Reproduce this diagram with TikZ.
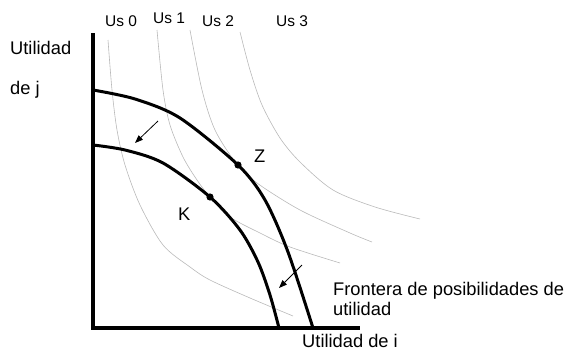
\documentclass[tikz,border=0pt]{standalone}
\usepackage{fontspec}
\setmainfont{Liberation Sans}
\usetikzlibrary{arrows.meta,positioning}

\begin{document}
\begin{tikzpicture}[
  x=1pt, y=-1pt,
  font=\fontsize{18.3}{20}\selectfont,
  axis/.style={line width=3.3pt},
  frontier/.style={line width=3pt, line join=round},
  indiff/.style={gray!55, line width=0.6pt},
  despl/.style={-{Triangle[length=8pt,width=6pt]}, line width=0.8pt},
  lbl/.style={inner sep=0pt, anchor=base west},
  uslbl/.style={lbl, font=\fontsize{15.5}{18}\selectfont}
]
\useasboundingbox (0,0) rectangle (571,351);

% curvas de indiferencia
\draw[indiff] plot[smooth] coordinates {(108,40) (112,90) (117,130) (125,165) (140,205) (163,245) (190,267) (210,280) (250,298) (293,316)};
\draw[indiff] plot[smooth] coordinates {(157,30) (163,90) (170,125) (183,157) (197,180) (210,197) (230,217) (260,233) (290,247) (340,263)};
\draw[indiff] plot[smooth] coordinates {(190,30) (202,90) (215,130) (236,163) (257,183) (300,210) (350,233) (372,242)};
\draw[indiff] plot[smooth] coordinates {(240,32) (250,70) (262,105) (280,138) (300,162) (333,190) (375,207) (420,219)};

% ejes
\draw[axis] (93,33) -- (93,328) -- (360,328);

% fronteras
\draw[frontier] plot[smooth] coordinates {(93,90) (135,99) (180,118) (238,165) (265,200) (288,252) (313,328)};
\draw[frontier] plot[smooth] coordinates {(93,145) (125,150) (163,163) (210,197) (240,230) (258,262) (270,295) (279,328)};

% puntos
\coordinate (Z) at (238,165);
\coordinate (K) at (210,197);
\fill (Z) circle (3.6pt);
\fill (K) circle (3.6pt);

% desplazamiento
\coordinate (d1a) at (158,121);
\coordinate (d1b) at (135,143);
\coordinate (d2a) at (302,265);
\coordinate (d2b) at (279,288);
\draw[despl] (d1a) -- (d1b);
\draw[despl] (d2a) -- (d2b);

% textos
\node[uslbl] (us0) at (105,26) {Us 0};
\node[uslbl] (us1) at (153,23) {Us 1};
\node[uslbl] (us2) at (202,26) {Us 2};
\node[uslbl] (us3) at (276,26) {Us 3};
\node[lbl] (uj) at (10,54) {Utilidad};
\node[lbl] (dej) at (10,94) {de j};
\node[lbl] (ui) at (302,347.5) {Utilidad de i};
\node[lbl] (zlab) at (254,162) {Z};
\node[lbl] (klab) at (178,220) {K};
\node[lbl, align=left, anchor=north west] (fpu) at (333,282) {Frontera de posibilidades de\\utilidad};
\end{tikzpicture}
\end{document}
